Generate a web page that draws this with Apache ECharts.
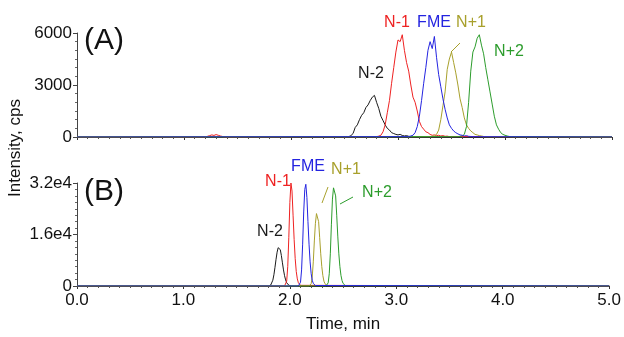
<!DOCTYPE html>
<html><head><meta charset="utf-8">
<script src="https://cdn.jsdelivr.net/npm/echarts@6/dist/echarts.min.js"></script>
<style>html,body{margin:0;padding:0;background:#fff}#c{width:624px;height:337px}</style>
</head><body><div id="c"></div>
<script>
// ---- tick labels ----
const xTickLabels = ['0.0','1.0','2.0','3.0','4.0','5.0'];
const yTickLabelsA = ['0','3000','6000'];
const yTickLabelsB = ['0','1.6e4','3.2e4'];

// ---- Panel A (step 0.02 min) ----
const aN2Start = 2.50, aN2 = [10,30,20,80,200,550,700,1000,1250,1400,1700,1850,2100,2300,2400,2000,1650,1200,950,700,500,400,250,200,150,120,150,90,60,80,40,20,10];
const aN1Start = 2.80, aN1 = [20,50,100,300,700,1400,2100,3100,4000,4900,5600,5500,5900,5000,4300,3800,3000,2300,2000,1500,900,600,450,300,250,150,100,120,80,100,60,80,40,50,20,30];
const aN1BlipStart = 1.20, aN1Blip = [0,40,80,120,90,140,100,60,30,0];
const aFMEStart = 3.10, aFME = [20,60,100,250,600,1200,2100,3100,4000,5000,5500,5100,5800,4600,3600,2900,2200,1600,1100,700,500,350,250,180,120,100,60,80,40,30,20];
const aP1Start = 3.30, aP1 = [20,40,60,150,400,1000,1800,2600,3900,4500,4900,4300,3700,3000,2200,1700,1100,700,500,350,250,150,120,80,60,30,20];
const aP2Start = 3.56, aP2 = [20,40,60,150,600,2000,3800,4900,5200,5700,5900,5300,4800,4000,3300,2600,1900,1200,700,450,250,150,100,60,30,20];
const stepA = 0.02;

// ---- Panel B (step 0.01 min) ----
const bN2Start = 1.80, bN2 = [0,100,300,800,1800,3500,5800,8300,10500,11900,12200,11300,9500,7200,5000,3200,1900,1000,500,250,100,0];
const bN1Start = 1.95, bN1 = [0,300,1500,6000,15000,26000,32000,29500,22000,14500,8500,4500,2200,1000,500,200,0];
const bFMEStart = 2.08, bFME = [0,200,1200,5000,13000,23000,30000,31600,27500,20000,13000,7500,3800,1800,800,350,150,0];
const bP1Start = 2.18, bP1 = [0,150,700,2800,7500,14000,19500,22500,23100,20000,15000,10000,6000,3200,1500,700,300,100,0];
const bP2Start = 2.34, bP2 = [0,200,1000,3800,10000,19000,27000,30500,31000,28000,22000,15500,10000,6000,3300,1700,800,350,150,0];
const stepB = 0.01;

const C = {black:'#1a1a1a', red:'#ee2222', blue:'#2424e0', olive:'#a8a02c', green:'#2c9c2c'};
const FONT = '"Liberation Sans", Arial, sans-serif';

function seg(start, step, vals){ return vals.map((v,i)=>[+(start+i*step).toFixed(3), v]); }
function trace(start, step, vals, extra){
  let pts = seg(start, step, vals);
  if (extra) pts = extra.concat(pts);
  return [[0,0]].concat(pts).concat([[5,0]]);
}

const chart = echarts.init(document.getElementById('c'), null, {renderer:'canvas'});

function xAxis(gi, showLabels){
  return {
    type:'value', gridIndex:gi, min:0, max:5, interval:1,
    axisLine:{show:true, onZero:false, lineStyle:{color:'#333', width:1}},
    axisTick:{show:true, length:3, lineStyle:{color:'#333'}},
    minorTick:{show:true, splitNumber:10, length:2, lineStyle:{color:'#555'}},
    splitLine:{show:false},
    axisLabel:{show:showLabels, color:'#111', fontSize:17, fontFamily:FONT, margin:6,
      formatter:(v)=>xTickLabels[Math.round(v)]},
    name: showLabels ? 'Time, min' : '', nameLocation:'middle', nameGap:30,
    nameTextStyle:{color:'#111', fontSize:17, fontFamily:FONT}
  };
}
function yAxis(gi, max, interval, labels, minorSplit){
  return {
    type:'value', gridIndex:gi, min:0, max:max, interval:interval,
    axisLine:{show:true, lineStyle:{color:'#444', width:1}},
    axisTick:{show:true, length:4, lineStyle:{color:'#444'}},
    minorTick:{show:true, splitNumber:minorSplit, length:2, lineStyle:{color:'#666'}},
    splitLine:{show:false},
    axisLabel:{color:'#111', fontSize:17, fontFamily:FONT, margin:5,
      formatter:(v)=>labels[Math.round(v/interval)]}
  };
}
function line(xi, data, color, z){
  return {type:'line', xAxisIndex:xi, yAxisIndex:xi, data:data, showSymbol:false, symbol:'none',
    lineStyle:{color:color, width:1}, itemStyle:{color:color}, animation:false, z:z||2};
}

function txt(x, y, s, color, size){
  return {type:'text', x:x, y:y, style:{text:s, fill:color, font:(size||16)+'px '+FONT, textAlign:'center', textVerticalAlign:'middle'}};
}
function ln(x1,y1,x2,y2,color){
  return {type:'line', shape:{x1:x1,y1:y1,x2:x2,y2:y2}, style:{stroke:color, lineWidth:1}};
}

chart.setOption({
  animation:false,
  grid:[
    {left:77, top:33, width:535, height:104},
    {left:77, top:183, width:535, height:103}
  ],
  xAxis:[xAxis(0,false), xAxis(1,true)],
  yAxis:[yAxis(0,6000,3000,yTickLabelsA,6), yAxis(1,32000,16000,yTickLabelsB,8)],
  series:[
    line(0, trace(aN2Start, stepA, aN2), C.black),
    line(0, trace(aN1Start, stepA, aN1, seg(aN1BlipStart, stepA, aN1Blip)), C.red),
    line(0, trace(aP1Start, stepA, aP1), C.olive),
    line(0, trace(aP2Start, stepA, aP2), C.green),
    line(0, trace(aFMEStart, stepA, aFME), C.blue),
    line(1, trace(bN2Start, stepB, bN2), C.black),
    line(1, trace(bN1Start, stepB, bN1), C.red),
    line(1, trace(bP1Start, stepB, bP1), C.olive),
    line(1, trace(bP2Start, stepB, bP2), C.green),
    line(1, trace(bFMEStart, stepB, bFME), C.blue)
  ],
  graphic:[
    txt(104, 41, '(A)', '#111', 30),
    txt(104, 192, '(B)', '#111', 30),
    {type:'text', x:15, y:148, rotation:Math.PI/2, style:{text:'Intensity, cps', fill:'#111', font:'17px '+FONT, textAlign:'center', textVerticalAlign:'middle'}},
    txt(371, 74, 'N-2', C.black),
    txt(397, 23, 'N-1', C.red),
    txt(434, 23, 'FME', C.blue),
    txt(471, 23, 'N+1', C.olive),
    txt(509, 52, 'N+2', C.green),
    ln(451, 52, 460, 43, C.olive),
    txt(270, 232, 'N-2', C.black),
    txt(278, 182, 'N-1', C.red),
    txt(308, 167, 'FME', C.blue),
    txt(346, 170, 'N+1', C.olive),
    txt(377, 193, 'N+2', C.green),
    ln(328, 187, 322, 203, C.olive),
    ln(353, 197, 340, 204, C.green)
  ]
});
</script></body></html>
